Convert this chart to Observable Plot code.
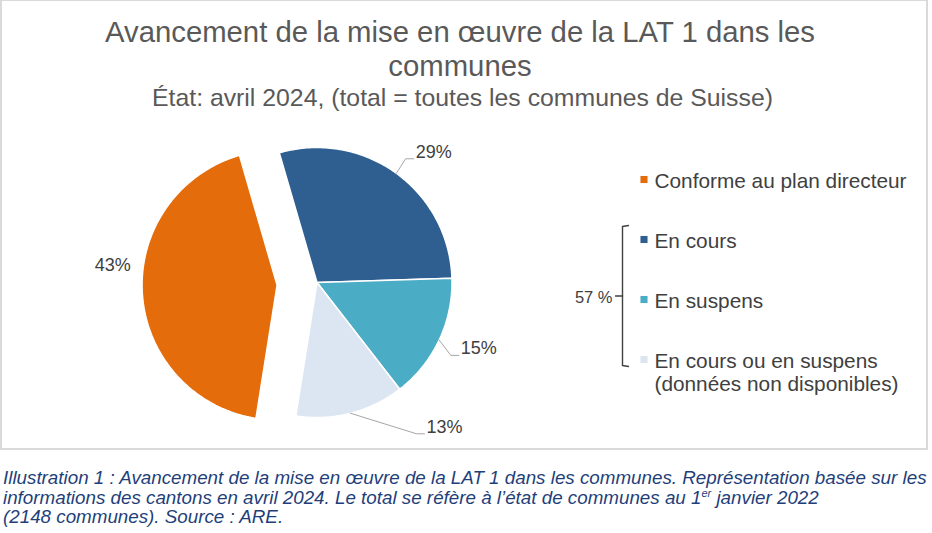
<!DOCTYPE html>
<html>
<head>
<meta charset="utf-8">
<script src="https://cdn.jsdelivr.net/npm/d3@7"></script>
<script src="https://cdn.jsdelivr.net/npm/@observablehq/plot@0.6"></script>
<style>
  body { margin: 0; background: #fff; font-family: "Liberation Sans", Arial, sans-serif; }
  #frame { position: absolute; left: 0; top: -1px; width: 928px; height: 451px; box-sizing: border-box; border: 2px solid #dadada; }
  #title { position: absolute; left: 0; top: 15px; width: 920px; text-align: center; color: #595959; font-size: 29.3px; line-height: 34px; }
  #subtitle { position: absolute; left: 0; top: 84px; width: 925px; text-align: center; color: #595959; font-size: 24.8px; line-height: 28px; }
  #chart { position: absolute; left: 0; top: 115px; }
  #caption { position: absolute; left: 3px; top: 468px; width: 930px; color: #1f3f7a; font-style: italic; font-size: 18.8px; line-height: 19.5px; white-space: nowrap; }
  #caption sup { font-size: 11px; line-height: 0; vertical-align: 7px; }
</style>
</head>
<body>
<div id="frame"></div>
<div id="title">Avancement de la mise en œuvre de la LAT 1 dans les<br>communes</div>
<div id="subtitle">État: avril 2024, (total = toutes les communes de Suisse)</div>
<div id="chart"></div>
<div id="caption">Illustration 1 : Avancement de la mise en œuvre de la LAT 1 dans les communes. Représentation basée sur les<br>informations des cantons en avril 2024. Le total se réfère à l’état de communes au 1<sup>er</sup> janvier 2022<br>(2148 communes). Source : ARE.</div>
<script>
// Status of the communes (share of all Swiss communes, %)
const categories = [
  "Conforme au plan directeur",
  "En cours",
  "En suspens",
  "En cours ou en suspens\n(données non disponibles)"
];
const shares = [43, 29, 15, 13];
const colors = ["#e46c0a", "#2f5f91", "#4bacc6", "#dce6f2"];
// Categories grouped by the bracket in the legend (not yet compliant)
const bracketed = [1, 2, 3];

// Layout (pixels inside the SVG)
const W = 932, H = 335;
const CX = 316.5, CY = 167, R = 135;   // pie centre and radius
const ROTATION = 189;                  // first slice starts here, degrees clockwise from 12 o'clock
const EXPLODE = 40;                    // offset of the highlighted slice
const rad = Math.PI / 180;
const toX = (px) => (px - CX) / R;
const toY = (py) => (CY - py) / R;

// Where each percentage label sits (polar, around the slice's own centre)
const labelPlacement = [
  {angle: 277, radius: 1.226, leader: false},
  {angle: 38, radius: 1.163, leader: true},
  {angle: 117.2, radius: 1.181, leader: true},
  {angle: 144.6, radius: 1.375, leader: true}
];

const slices = categories.map((key, i) => ({key, share: shares[i]}));
const arcs = d3.pie().sort(null).value((d) => d.share)
  .startAngle(ROTATION * rad).endAngle(ROTATION * rad + 2 * Math.PI)(slices);

const offsetOf = (a, i) => {
  const mid = (a.startAngle + a.endAngle) / 2;
  const e = i === 0 ? EXPLODE / R : 0;
  return {ox: e * Math.sin(mid), oy: e * Math.cos(mid), mid};
};

// Slice outlines: centre, arc sampled every degree, back to centre
const wedges = arcs.flatMap((a, i) => {
  const {ox, oy} = offsetOf(a, i);
  const key = a.data.key;
  const n = Math.max(2, Math.ceil((a.endAngle - a.startAngle) / rad));
  const pts = [{key, x: ox, y: oy}];
  for (let k = 0; k <= n; ++k) {
    const t = a.startAngle + (a.endAngle - a.startAngle) * k / n;
    pts.push({key, x: ox + Math.sin(t), y: oy + Math.cos(t)});
  }
  pts.push({key, x: ox, y: oy});
  return pts;
});

const labels = arcs.map((a, i) => {
  const {ox, oy} = offsetOf(a, i);
  const p = labelPlacement[i];
  return {
    key: a.data.key,
    text: `${a.data.share}%`,
    leader: p.leader,
    x: ox + p.radius * Math.sin(p.angle * rad),
    y: oy + p.radius * Math.cos(p.angle * rad)
  };
});

const leaders = arcs.flatMap((a, i) => {
  const {ox, oy, mid} = offsetOf(a, i);
  const l = labels[i];
  if (!l.leader) return [];
  return [
    {key: l.key, x: ox + Math.sin(mid), y: oy + Math.cos(mid)},
    {key: l.key, x: l.x - 8 / R, y: l.y},
    {key: l.key, x: l.x, y: l.y}
  ];
});

// Legend rows
const LEG_X = 643.5, LEG_TEXT_X = 654, LEG_TOP = 64, LEG_STEP = 60, LEG_FONT = 20.8;
const legendRows = categories.map((key, row) => ({key, row}));
const rowY = (row) => LEG_TOP + LEG_STEP * row;

const bTop = rowY(bracketed[0]) - 14, bBottom = rowY(bracketed[bracketed.length - 1]) + 7;
const bMid = (bTop + bBottom) / 2;
const bracket = [
  {x: toX(628), y: toY(bTop)}, {x: toX(622), y: toY(bTop + 1)},
  {x: toX(622), y: toY(bBottom - 1)}, {x: toX(628), y: toY(bBottom)}
];
const bracketTick = [{x: toX(622), y: toY(bMid)}, {x: toX(615), y: toY(bMid)}];
const bracketTotal = [{text: `${d3.sum(bracketed, (i) => shares[i])} %`}];

const chart = Plot.plot({
  width: W,
  height: H,
  margin: 0,
  x: {domain: [toX(0), toX(W)], axis: null},
  y: {domain: [toY(H), toY(0)], axis: null},
  color: {domain: categories, range: colors},
  style: {fontFamily: "'Liberation Sans', Arial, sans-serif", background: "transparent"},
  marks: [
    Plot.line(wedges, {x: "x", y: "y", z: "key", fill: "key", stroke: "white", strokeWidth: 1.5, strokeLinejoin: "miter"}),
    Plot.line(leaders, {x: "x", y: "y", z: "key", stroke: "#a6a6a6", strokeWidth: 1}),
    Plot.text(labels.filter((d) => d.leader), {x: "x", y: "y", text: "text", textAnchor: "start", dx: 2, dy: -7, fontSize: 18, fill: "#404040"}),
    Plot.text(labels.filter((d) => !d.leader), {x: "x", y: "y", text: "text", textAnchor: "middle", fontSize: 18, fill: "#404040"}),
    Plot.dot(legendRows, {x: () => toX(LEG_X), y: (d) => toY(rowY(d.row)), fill: "key", symbol: "square", r: 4, stroke: null}),
    Plot.text(legendRows, {
      x: () => toX(LEG_TEXT_X), y: (d) => toY(rowY(d.row) - 0.39 * LEG_FONT),
      text: "key", textAnchor: "start", lineAnchor: "top", lineHeight: 1.12,
      fontSize: LEG_FONT, fill: "#404040"
    }),
    Plot.line(bracket, {x: "x", y: "y", stroke: "#404040", strokeWidth: 1.4, curve: "linear"}),
    Plot.line(bracketTick, {x: "x", y: "y", stroke: "#404040", strokeWidth: 1.4}),
    Plot.text(bracketTotal, {x: () => toX(612), y: () => toY(bMid + 2), text: "text", textAnchor: "end", fontSize: 16.5, fill: "#404040"})
  ]
});
document.getElementById("chart").append(chart);
</script>
</body>
</html>
